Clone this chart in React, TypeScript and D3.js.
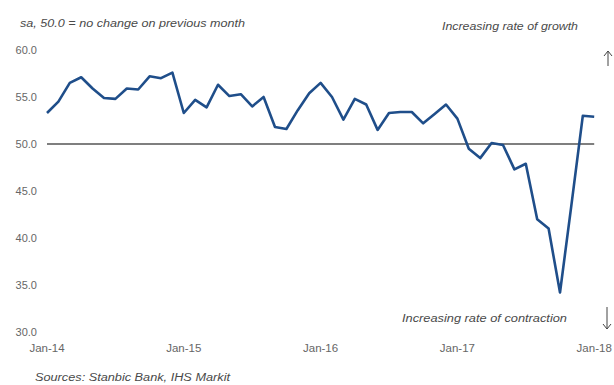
import React from "react";
import * as d3 from "d3";

const values: number[] = [
  53.3, 54.5, 56.5, 57.1, 55.9, 54.9, 54.8, 55.9, 55.8, 57.2, 57.0, 57.6,
  53.3, 54.7, 53.9, 56.3, 55.1, 55.3, 54.0, 55.0, 51.8, 51.6, 53.6, 55.4,
  56.5, 55.0, 52.6, 54.8, 54.2, 51.5, 53.3, 53.4, 53.4, 52.2, 53.2, 54.2,
  52.7, 49.5, 48.5, 50.1, 49.9, 47.3, 47.9, 42.0, 41.0, 34.2, 43.5, 53.0, 52.9,
];
const xTickIndex: number[] = [0, 12, 24, 36, 48];
const xTickLabels: string[] = ["Jan-14", "Jan-15", "Jan-16", "Jan-17", "Jan-18"];
const yTicks: number[] = [30, 35, 40, 45, 50, 55, 60];
const refLevel = 50;

export default function App() {
  const W = 614, H = 385;
  const x = d3.scaleLinear().domain([0, values.length - 1]).range([47, 594.2]);
  const y = d3.scaleLinear().domain([30, 60]).range([332, 50]);
  const line = d3.line<number>().x((_, i) => x(i)).y((d) => y(d));
  const font = "Arial, 'Liberation Sans', sans-serif";
  return (
    <svg width={W} height={H} style={{ position: "absolute", left: 0, top: 0, background: "#fff" }}>
      <rect width={W} height={H} fill="#fff" />
      <text x={20} y={27} fontFamily={font} fontSize={10} fontStyle="italic" fill="#4a4a4a" textLength={225} lengthAdjust="spacingAndGlyphs">
        sa, 50.0 = no change on previous month
      </text>
      {yTicks.map((t) => (
        <text key={t} x={37} y={y(t)} dy="0.35em" textAnchor="end" fontFamily={font} fontSize={11} fill="#666">
          {t.toFixed(1)}
        </text>
      ))}
      {xTickIndex.map((idx, k) => (
        <text key={idx} x={x(idx)} y={348} dy="0.35em" textAnchor="middle" fontFamily={font} fontSize={11.5} fill="#666">
          {xTickLabels[k]}
        </text>
      ))}
      <line x1={x(0)} x2={x(values.length - 1)} y1={y(refLevel)} y2={y(refLevel)} stroke="#555" strokeWidth={1.5} />
      <path d={line(values) ?? ""} fill="none" stroke="#1f4e8a" strokeWidth={2.6} strokeLinejoin="round" />
      <text x={442} y={30} fontFamily={font} fontSize={10} fontStyle="italic" fill="#4a4a4a" textLength={136} lengthAdjust="spacingAndGlyphs">
        Increasing rate of growth
      </text>
      <text x={402} y={322} fontFamily={font} fontSize={10} fontStyle="italic" fill="#4a4a4a" textLength={165} lengthAdjust="spacingAndGlyphs">
        Increasing rate of contraction
      </text>
      <g stroke="#444" strokeWidth={1} fill="none">
        <line x1={608} y1={51} x2={608} y2={66} />
        <polyline points="604,56 608,51 612,56" />
        <line x1={607} y1={307} x2={607} y2={329} />
        <polyline points="603,324 607,329 611,324" />
      </g>
      <text x={35} y={381} fontFamily={font} fontSize={10} fontStyle="italic" fill="#4a4a4a" textLength={195} lengthAdjust="spacingAndGlyphs">
        Sources: Stanbic Bank, IHS Markit
      </text>
    </svg>
  );
}
